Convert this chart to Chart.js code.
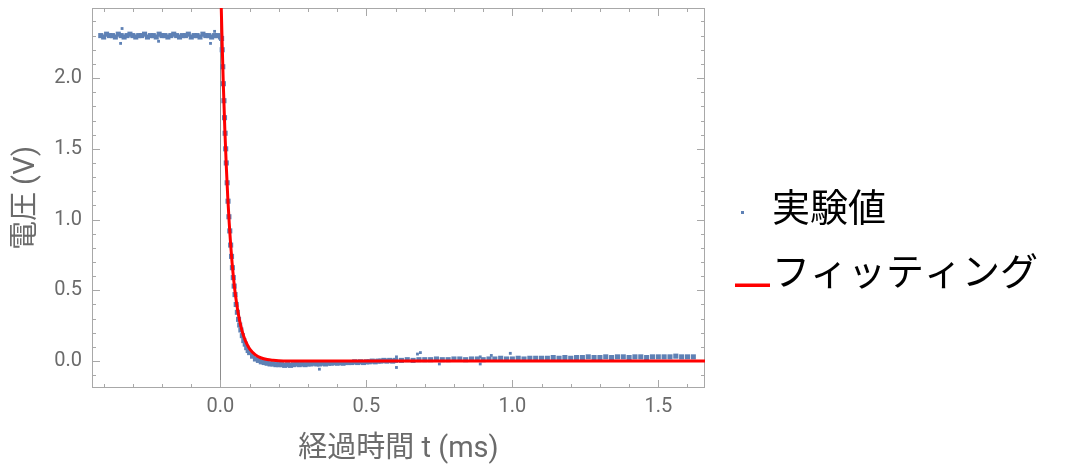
<!DOCTYPE html>
<html>
<head>
<meta charset="utf-8">
<title>電圧の時間変化</title>
<script src="https://cdn.jsdelivr.net/npm/chart.js@4.4.1/dist/chart.umd.min.js"></script>
<style>
  html, body { margin: 0; padding: 0; background: #fff; }
  #chart { display: block; }
</style>
</head>
<body>
<canvas id="chart" width="1066" height="470"></canvas>
<script>
// 実験値: before the switch (t < 0)
const flatTime = [-0.41, -0.40, -0.39, -0.38, -0.37, -0.36, -0.35, -0.34, -0.33, -0.32,
  -0.31, -0.30, -0.29, -0.28, -0.27, -0.26, -0.25, -0.24, -0.23, -0.22,
  -0.21, -0.20, -0.19, -0.18, -0.17, -0.16, -0.15, -0.14, -0.13, -0.12,
  -0.11, -0.10, -0.09, -0.08, -0.07, -0.06, -0.05, -0.04, -0.03, -0.02,
  -0.01, 0.00];
const flatVolt = [2.30, 2.29, 2.31, 2.30, 2.30, 2.29, 2.31, 2.30, 2.29, 2.30,
  2.31, 2.30, 2.29, 2.30, 2.30, 2.31, 2.29, 2.30, 2.30, 2.29,
  2.31, 2.30, 2.30, 2.29, 2.30, 2.31, 2.30, 2.29, 2.30, 2.30,
  2.31, 2.29, 2.30, 2.30, 2.29, 2.31, 2.30, 2.30, 2.29, 2.30,
  2.30, 2.29];

// 実験値: the decay
const dropTime = [0.004, 0.006, 0.008, 0.010, 0.012, 0.014, 0.016, 0.018, 0.020, 0.023,
  0.026, 0.029, 0.032, 0.035, 0.038, 0.041, 0.044, 0.047, 0.050, 0.054,
  0.058, 0.062, 0.066, 0.070, 0.075, 0.080, 0.085, 0.090, 0.095, 0.100,
  0.110, 0.120, 0.130, 0.140, 0.150, 0.160, 0.170, 0.180, 0.190, 0.200];
const dropVolt = [2.28, 2.20, 2.08, 1.96, 1.84, 1.72, 1.61, 1.50, 1.40, 1.26,
  1.13, 1.02, 0.92, 0.82, 0.74, 0.66, 0.59, 0.53, 0.47, 0.40,
  0.345, 0.295, 0.255, 0.22, 0.18, 0.145, 0.12, 0.095, 0.075, 0.06,
  0.035, 0.015, 0.005, -0.005, -0.01, -0.015, -0.02, -0.02, -0.025, -0.025];

// 実験値: the tail
const tailTime = [0.21, 0.22, 0.23, 0.24, 0.25, 0.26, 0.27, 0.28, 0.29, 0.30,
  0.31, 0.32, 0.33, 0.34, 0.35, 0.36, 0.37, 0.38, 0.39, 0.40,
  0.41, 0.42, 0.43, 0.44, 0.45, 0.46, 0.47, 0.48, 0.49, 0.50,
  0.51, 0.52, 0.53, 0.54, 0.55, 0.56, 0.57, 0.58, 0.59, 0.60,
  0.62, 0.64, 0.66, 0.68, 0.70, 0.72, 0.74, 0.76, 0.78, 0.80,
  0.82, 0.84, 0.86, 0.88, 0.90, 0.92, 0.94, 0.96, 0.98, 1.00,
  1.02, 1.04, 1.06, 1.08, 1.10, 1.12, 1.14, 1.16, 1.18, 1.20,
  1.22, 1.24, 1.26, 1.28, 1.30, 1.32, 1.34, 1.36, 1.38, 1.40,
  1.42, 1.44, 1.46, 1.48, 1.50, 1.52, 1.54, 1.56, 1.58, 1.60,
  1.62];
const tailVolt = [-0.025, -0.03, -0.025, -0.03, -0.025, -0.02, -0.025, -0.02, -0.025, -0.02,
  -0.02, -0.015, -0.02, -0.02, -0.015, -0.02, -0.015, -0.015, -0.01, -0.015,
  -0.01, -0.015, -0.01, -0.01, -0.01, -0.005, -0.01, -0.005, -0.01, -0.005,
  -0.005, 0.0, -0.005, 0.0, 0.0, 0.005, 0.0, 0.005, 0.0, 0.005,
  0.005, 0.01, 0.005, 0.01, 0.01, 0.01, 0.015, 0.01, 0.01, 0.015,
  0.015, 0.01, 0.015, 0.015, 0.01, 0.015, 0.015, 0.02, 0.015, 0.015,
  0.02, 0.015, 0.02, 0.02, 0.02, 0.02, 0.025, 0.02, 0.025, 0.02,
  0.025, 0.025, 0.03, 0.025, 0.025, 0.03, 0.025, 0.03, 0.03, 0.025,
  0.03, 0.03, 0.025, 0.03, 0.03, 0.03, 0.03, 0.035, 0.03, 0.03,
  0.03];

// stray samples off the main trace
const strayTime = [-0.342, -0.337, -0.212, -0.034, -0.02, 0.339, 0.603, 0.603, 0.675, 0.685, 0.75, 0.89, 0.89, 0.928, 0.993];
const strayVolt = [2.245, 2.35, 2.26, 2.245, 2.33, -0.057, 0.03, -0.045, 0.05, 0.06, -0.02, 0.03, -0.02, 0.04, 0.055];

// フィッティング curve
const fitTime = [0, 0.003, 0.006, 0.010, 0.015, 0.020, 0.025, 0.030, 0.035, 0.040,
  0.045, 0.050, 0.060, 0.070, 0.080, 0.090, 0.100, 0.120, 0.140, 0.160,
  0.180, 0.200, 0.250, 0.300, 1.66];
const fitVolt = [2.75, 2.48, 2.236, 1.948, 1.639, 1.380, 1.161, 0.978, 0.823, 0.692,
  0.583, 0.490, 0.347, 0.246, 0.174, 0.123, 0.087, 0.044, 0.022, 0.011,
  0.006, 0.003, 0.001, 0.000, 0.000];

const BLUE = '#5e81b5';
const RED = '#ff0000';
const GRAY_TEXT = '#6b6b6b';
const FONT = 'Roboto, "Noto Sans CJK JP", sans-serif';

const pts = (ts, vs) => ts.map((t, i) => ({ x: t, y: vs[i] }));
const expPoints = pts(flatTime, flatVolt).concat(pts(dropTime, dropVolt), pts(tailTime, tailVolt));

// little legend markers (point and line), offset like the original
function marker(w, h, color, rx, ry, rw, rh) {
  const c = document.createElement('canvas');
  c.width = w;
  c.height = h;
  const g = c.getContext('2d');
  g.fillStyle = color;
  g.fillRect(rx, ry, rw, rh);
  return c;
}
const dotMark = marker(3, 16, BLUE, 0, 12, 3, 3);
const lineMark = marker(56, 31, RED, 21, 28, 35, 3);

// minor ticks every 0.1, major every 0.5, drawn inward on all four sides
const frameTicks = {
  id: 'frameTicks',
  beforeDatasetsDraw(chart) {
    const { ctx, chartArea: a, scales: { x, y } } = chart;
    const isMajor = v => Math.abs(v * 2 - Math.round(v * 2)) < 1e-9;
    ctx.save();
    ctx.lineWidth = 1;

    const x0 = Math.round(x.getPixelForValue(0)) + 0.5;
    ctx.strokeStyle = '#8c8c8c';
    ctx.beginPath();
    ctx.moveTo(x0, a.top);
    ctx.lineTo(x0, a.bottom);
    ctx.stroke();

    ctx.strokeStyle = '#a8a8a8';
    ctx.strokeRect(a.left + 0.5, a.top + 0.5, a.width - 1, a.height - 1);

    ctx.beginPath();
    for (let i = -4; i <= 16; i++) {
      const v = i / 10;
      const px = Math.round(x.getPixelForValue(v)) + 0.5;
      const len = isMajor(v) ? 8 : 4;
      ctx.moveTo(px, a.bottom);
      ctx.lineTo(px, a.bottom - len);
      ctx.moveTo(px, a.top);
      ctx.lineTo(px, a.top + len);
    }
    for (let i = -1; i <= 24; i++) {
      const v = i / 10;
      const py = Math.round(y.getPixelForValue(v)) + 0.5;
      const len = isMajor(v) ? 8 : 4;
      ctx.moveTo(a.left, py);
      ctx.lineTo(a.left + len, py);
      ctx.moveTo(a.right, py);
      ctx.lineTo(a.right - len, py);
    }
    ctx.stroke();
    ctx.restore();
  }
};

new Chart(document.getElementById('chart'), {
  type: 'scatter',
  data: {
    datasets: [{
      label: '実験値',
      data: expPoints,
      pointStyle: 'rect',
      pointRadius: 3.6,
      borderWidth: 0,
      backgroundColor: BLUE,
      order: 2
    }, {
      label: '実験値 (外れ値)',
      data: pts(strayTime, strayVolt),
      pointStyle: 'rect',
      pointRadius: 2,
      borderWidth: 0,
      backgroundColor: BLUE,
      order: 3
    }, {
      label: 'フィッティング',
      data: pts(fitTime, fitVolt),
      showLine: true,
      borderColor: RED,
      borderWidth: 3,
      pointRadius: 0,
      cubicInterpolationMode: 'monotone',
      order: 1
    }]
  },
  options: {
    responsive: false,
    devicePixelRatio: 1,
    animation: false,
    layout: { padding: { top: 8, right: 0, bottom: 0, left: 0 } },
    plugins: {
      tooltip: { enabled: false },
      legend: {
        position: 'right',
        maxWidth: 361,
        labels: {
          usePointStyle: true,
          pointStyleWidth: 22,
          padding: 26,
          color: '#000',
          font: { family: '"Noto Sans CJK JP", sans-serif', size: 38 },
          generateLabels: () => [
            { text: '実験値', pointStyle: dotMark, fillStyle: BLUE, strokeStyle: BLUE, lineWidth: 0, hidden: false, datasetIndex: 0, fontColor: '#000' },
            { text: 'フィッティング\u3000', pointStyle: lineMark, fillStyle: RED, strokeStyle: RED, lineWidth: 0, hidden: false, datasetIndex: 2, fontColor: '#000' }
          ]
        }
      }
    },
    scales: {
      x: {
        type: 'linear',
        min: -0.44,
        max: 1.66,
        grid: { display: false, drawTicks: false },
        border: { display: false },
        ticks: {
          stepSize: 0.5,
          includeBounds: false,
          padding: 7,
          color: GRAY_TEXT,
          font: { family: FONT, size: 20 },
          callback: v => v.toFixed(1)
        },
        title: {
          display: true,
          text: '経過時間 t (ms)',
          color: GRAY_TEXT,
          font: { family: FONT, size: 29 },
          padding: { top: 0, bottom: 3 }
        },
        afterFit: s => { s.height = 82; s.paddingLeft = 0; s.paddingRight = 0; }
      },
      y: {
        type: 'linear',
        min: -0.19,
        max: 2.495,
        grid: { display: false, drawTicks: false },
        border: { display: false },
        ticks: {
          stepSize: 0.5,
          includeBounds: false,
          padding: 10,
          color: GRAY_TEXT,
          font: { family: FONT, size: 20 },
          callback: v => v.toFixed(1)
        },
        title: {
          display: true,
          text: '電圧 (V)',
          color: GRAY_TEXT,
          font: { family: FONT, size: 29 },
          padding: { top: 9, bottom: 0 }
        },
        afterFit: s => { s.width = 92; s.paddingTop = 0; s.paddingBottom = 0; }
      }
    }
  },
  plugins: [frameTicks]
});
</script>
</body>
</html>
